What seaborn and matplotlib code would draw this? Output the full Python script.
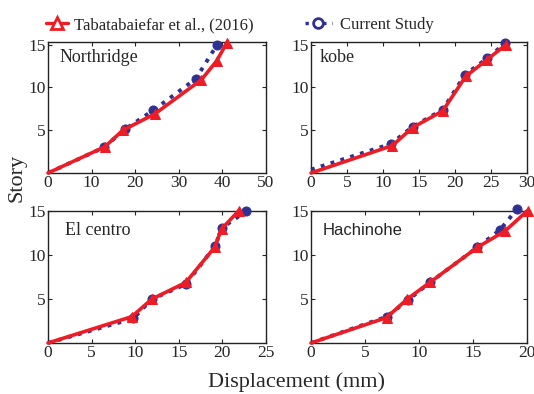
import numpy as np
import pandas as pd
import matplotlib
matplotlib.use("Agg")
import matplotlib.pyplot as plt
from matplotlib.lines import Line2D
import seaborn as sns

sns.set_style("ticks")
plt.rcParams["font.family"] = ["Liberation Serif", "DejaVu Serif"]

# ---- data ----
quakes = ["Northridge", "kobe", "El centro", "Hachinohe"]

north_ref_x = [0, 13.0, 17.2, 24.5, 35.2, 38.7, 41.0]
north_ref_y = [0, 3.05, 5.0, 6.9, 10.9, 13.1, 15.2]
north_cur_x = [0, 12.9, 17.6, 24.1, 33.9, 38.8]
north_cur_y = [0, 3.0, 5.1, 7.3, 11.0, 15.0]

kobe_ref_x = [0, 11.3, 14.1, 18.3, 21.5, 24.4, 27.1]
kobe_ref_y = [0, 3.2, 5.3, 7.25, 11.3, 13.2, 15.0]
kobe_cur_x = [0, 11.1, 14.1, 18.3, 21.4, 24.5, 27.0]
kobe_cur_y = [0.4, 3.4, 5.4, 7.4, 11.5, 13.4, 15.2]

elc_ref_x = [0, 9.6, 11.9, 15.8, 19.1, 19.9, 21.9]
elc_ref_y = [0, 3.0, 5.0, 6.9, 10.9, 13.0, 15.1]
elc_cur_x = [0, 9.8, 11.9, 15.8, 19.2, 19.9, 22.7]
elc_cur_y = [0, 2.8, 5.0, 6.7, 11.1, 13.1, 15.0]

hach_ref_x = [0, 7.0, 8.9, 11.0, 15.4, 18.0, 20.05]
hach_ref_y = [0, 2.9, 5.0, 6.9, 10.9, 12.8, 15.1]
hach_cur_x = [0, 7.0, 9.0, 11.0, 15.4, 17.5, 19.1]
hach_cur_y = [0, 3.0, 4.9, 6.9, 10.9, 12.9, 15.3]

xmax = [50, 30, 25, 20]
xstep = [10, 5, 5, 5]
ytick_vals = [5, 10, 15]

ref_label = "Tabatabaiefar et al., (2016)"
cur_label = "Current Study"
xlabel = "Displacement (mm)"
ylabel = "Story"

RED = "#EE1C25"
BLUE = "#2E3192"

series = [
    (north_ref_x, north_ref_y, north_cur_x, north_cur_y),
    (kobe_ref_x, kobe_ref_y, kobe_cur_x, kobe_cur_y),
    (elc_ref_x, elc_ref_y, elc_cur_x, elc_cur_y),
    (hach_ref_x, hach_ref_y, hach_cur_x, hach_cur_y),
]

fig = plt.figure(figsize=(5.34, 3.94), dpi=100)
W, H = 534, 394
boxes = [(48, 42, 266, 173), (311, 42, 527, 173), (48, 211, 266, 343), (311, 211, 527, 343)]
ytop = [15.3, 15.3, 15.05, 15.05]
lab_pos = [(0.055, 0.885), (0.041, 0.885), (0.078, 0.856), (0.055, 0.856)]

for i, (bx, (rx, ry, cx, cy)) in enumerate(zip(boxes, series)):
    l, t, r, b = bx
    ax = fig.add_axes([l / W, 1 - b / H, (r - l) / W, (b - t) / H])
    dr = pd.DataFrame({"x": rx, "y": ry})
    dc = pd.DataFrame({"x": cx, "y": cy})
    sns.lineplot(data=dc, x="x", y="y", ax=ax, sort=False, color=BLUE,
                 linestyle=":", linewidth=2.8, marker="o", markersize=6.5,
                 markeredgecolor=BLUE, markerfacecolor=BLUE, clip_on=False, zorder=3,
                 markevery=list(range(1, len(cx))))
    sns.lineplot(data=dr, x="x", y="y", ax=ax, sort=False, color=RED,
                 linestyle="-", linewidth=2.6, marker="^", markersize=7.5,
                 markeredgecolor=RED, markerfacecolor=RED, clip_on=False, zorder=4,
                 markevery=list(range(1, len(rx))))
    ax.set_xlim(0, xmax[i])
    ax.set_ylim(0, ytop[i])
    ax.set_xticks(np.arange(0, xmax[i] + 0.1, xstep[i]))
    ax.set_yticks(ytick_vals)
    ax.set_xlabel("")
    ax.set_ylabel("")
    ax.tick_params(direction="in", top=True, right=True, labelsize=12.5, length=3,
                   width=0.8, pad=1.5)
    for s in ax.spines.values():
        s.set_linewidth(1.0)
        s.set_color("#222222")
    px, py = lab_pos[i]
    if quakes[i] == "Hachinohe":
        ax.text(px, py, quakes[i], transform=ax.transAxes, fontsize=12, va="center",
                family=["Liberation Sans", "DejaVu Sans"])
    else:
        ax.text(px, py, quakes[i], transform=ax.transAxes, fontsize=13, va="center")

fig.text(296 / W, 1 - 382 / H, xlabel, ha="center", va="center", fontsize=16)
fig.text(17 / W, 1 - 178 / H, ylabel, ha="center", va="center", fontsize=16, rotation=90)

h_ref = Line2D([], [], color=RED, linewidth=2.4, marker="^", markersize=8,
               markerfacecolor="white", markeredgecolor=RED, markeredgewidth=2)
h_cur = Line2D([], [], color=BLUE, linewidth=2.4, linestyle=":", marker="o", markersize=7,
               markerfacecolor="white", markeredgecolor=BLUE, markeredgewidth=2)
fig.legend([h_ref], [ref_label], loc="center left", bbox_to_anchor=(46 / W, 1 - 25 / H),
           frameon=False, fontsize=12, handlelength=1.3, handletextpad=0.4, borderpad=0,
           borderaxespad=0)
fig.legend([h_cur], [cur_label], loc="center left", bbox_to_anchor=(305 / W, 1 - 25 / H),
           frameon=False, fontsize=12, handlelength=1.6, handletextpad=0.5, borderpad=0,
           borderaxespad=0)

fig.savefig("out.png", dpi=100)
